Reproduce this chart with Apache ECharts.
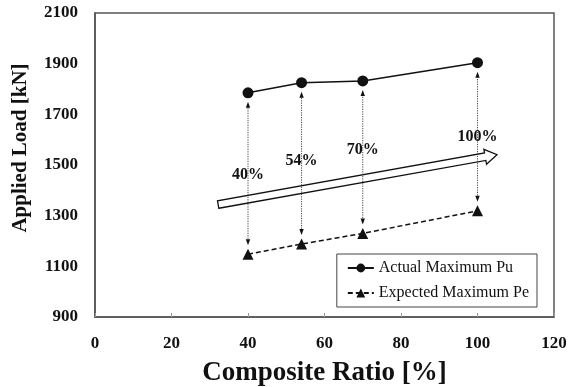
<!DOCTYPE html>
<html>
<head>
<meta charset="utf-8">
<script src="https://cdn.jsdelivr.net/npm/echarts@6/dist/echarts.min.js"></script>
<style>
  html, body { margin: 0; padding: 0; background: #fff; }
  #chart { width: 568px; height: 387px; }
</style>
</head>
<body>
<div id="chart"></div>
<script>
// Composite ratio (%) of each specimen
const compositeRatio = [40, 54, 70, 100];
// Actual maximum load Pu (kN)
const actualMaxPu = [1785, 1825, 1832, 1904];
// Expected maximum load Pe (kN)
const expectedMaxPe = [1148, 1188, 1230, 1319];
// Ratio labels shown above the trend arrow, with the load level they sit at
const ratioLabels = ['40%', '54%', '70%', '100%'];
const ratioLabelLoad = [1460, 1516, 1559, 1611];
// Trend arrow from (ratio, load) to (ratio, load)
const trendArrowFrom = [32.2, 1344];
const trendArrowTo = [105.1, 1541];

const FONT = '"Liberation Serif", "Times New Roman", serif';
const INK = '#111';

const chart = echarts.init(document.getElementById('chart'), null, { renderer: 'canvas' });

const puData = compositeRatio.map((x, i) => [x, actualMaxPu[i]]);
const peData = compositeRatio.map((x, i) => [x, expectedMaxPe[i]]);
const gapData = compositeRatio.map((x, i) => [x, expectedMaxPe[i], actualMaxPu[i]]);
const labelData = compositeRatio.map((x, i) => [x, ratioLabelLoad[i]]);

// small filled arrowhead pointing along (dx, dy) with its tip at (tx, ty)
function arrowHead(tx, ty, dx, dy, len, half) {
  const bx = tx - dx * len, by = ty - dy * len;
  const nx = -dy, ny = dx;
  return {
    type: 'polygon',
    shape: { points: [[tx, ty], [bx + nx * half, by + ny * half], [bx - nx * half, by - ny * half]] },
    style: { fill: INK, stroke: null }
  };
}

chart.setOption({
  animation: false,
  backgroundColor: '#fff',
  grid: {
    left: 95, right: 14, top: 13, bottom: 70,
    outerBoundsMode: 'none', containLabel: false,
    show: true, borderColor: '#555', borderWidth: 1.5, backgroundColor: 'transparent'
  },
  xAxis: {
    type: 'value', min: 0, max: 120, interval: 20,
    name: 'Composite Ratio [%]', nameLocation: 'middle', nameGap: 43,
    nameTextStyle: { fontFamily: FONT, fontWeight: 'bold', fontSize: 27, color: INK },
    axisLine: { show: true, lineStyle: { color: '#555', width: 1.5 } },
    axisTick: { show: true, inside: true, length: 4, lineStyle: { color: '#999' } },
    axisLabel: { fontFamily: FONT, fontWeight: 'bold', fontSize: 17, color: INK, margin: 18 },
    splitLine: { show: false }
  },
  yAxis: {
    type: 'value', min: 900, max: 2100, interval: 200,
    name: 'Applied Load [kN]', nameLocation: 'middle', nameGap: 64,
    nameTextStyle: { fontFamily: FONT, fontWeight: 'bold', fontSize: 21, color: INK, padding: [0, 0, 0, 34] },
    axisLine: { show: true, lineStyle: { color: '#555', width: 1.5 } },
    axisTick: { show: false },
    axisLabel: {
      fontFamily: FONT, fontWeight: 'bold', fontSize: 17, color: INK, margin: 17,
      formatter: function (v) { return String(v); }
    },
    splitLine: { show: false }
  },
  legend: {
    orient: 'vertical', right: 31, bottom: 80,
    backgroundColor: '#fff', borderColor: '#444', borderWidth: 1,
    padding: [6, 8, 6, 10], itemGap: 9, itemWidth: 26, itemHeight: 11,
    textStyle: { fontFamily: FONT, fontSize: 16, color: INK },
    data: ['Actual Maximum Pu', 'Expected Maximum Pe']
  },
  series: [
    {
      // hollow trend arrow across the plot
      type: 'custom', silent: true, z: 1,
      data: [[trendArrowFrom[0], trendArrowFrom[1], trendArrowTo[0], trendArrowTo[1]]],
      renderItem: function (params, api) {
        const s = api.coord([api.value(0), api.value(1)]);
        const t = api.coord([api.value(2), api.value(3)]);
        const L = Math.hypot(t[0] - s[0], t[1] - s[1]);
        const dx = (t[0] - s[0]) / L, dy = (t[1] - s[1]) / L;
        const nx = -dy, ny = dx;
        const w = 3.8, hw = 7.5, hl = 12;
        const h = [t[0] - dx * hl, t[1] - dy * hl];
        const pts = [
          [s[0] + nx * w, s[1] + ny * w],
          [h[0] + nx * w, h[1] + ny * w],
          [h[0] + nx * hw, h[1] + ny * hw],
          [t[0], t[1]],
          [h[0] - nx * hw, h[1] - ny * hw],
          [h[0] - nx * w, h[1] - ny * w],
          [s[0] - nx * w, s[1] - ny * w]
        ];
        return {
          type: 'polygon', shape: { points: pts },
          style: { fill: 'rgba(255,255,255,0)', stroke: INK, lineWidth: 1.3 }
        };
      }
    },
    {
      // dotted double-headed arrows between expected and actual load
      type: 'custom', silent: true, z: 2,
      data: gapData,
      renderItem: function (params, api) {
        const lo = api.coord([api.value(0), api.value(1)]);
        const hi = api.coord([api.value(0), api.value(2)]);
        const gap = 9;
        const x = lo[0];
        const yBottom = lo[1] - gap, yTop = hi[1] + gap;
        return {
          type: 'group',
          children: [
            {
              type: 'line',
              shape: { x1: x, y1: yBottom - 4, x2: x, y2: yTop + 4 },
              style: { stroke: '#333', lineWidth: 0.9, lineDash: [1.2, 1.2] }
            },
            arrowHead(x, yTop, 0, -1, 6, 2.2),
            arrowHead(x, yBottom, 0, 1, 6, 2.2)
          ]
        };
      }
    },
    {
      // ratio labels above the trend arrow
      type: 'custom', silent: true, z: 3,
      data: labelData,
      renderItem: function (params, api) {
        const p = api.coord([api.value(0), api.value(1)]);
        return {
          type: 'text',
          style: {
            x: p[0], y: p[1], text: ratioLabels[params.dataIndex],
            align: 'center', verticalAlign: 'middle',
            font: 'bold 16px ' + FONT, fill: INK
          }
        };
      }
    },
    {
      name: 'Actual Maximum Pu', type: 'line', z: 4,
      data: puData,
      symbol: 'circle', symbolSize: 11,
      itemStyle: { color: INK },
      lineStyle: { color: INK, width: 1.5, type: 'solid' }
    },
    {
      name: 'Expected Maximum Pe', type: 'line', z: 4,
      data: peData,
      symbol: 'triangle', symbolSize: 11,
      itemStyle: { color: INK },
      lineStyle: { color: INK, width: 1.5, type: [5, 3] }
    }
  ]
});
</script>
</body>
</html>
